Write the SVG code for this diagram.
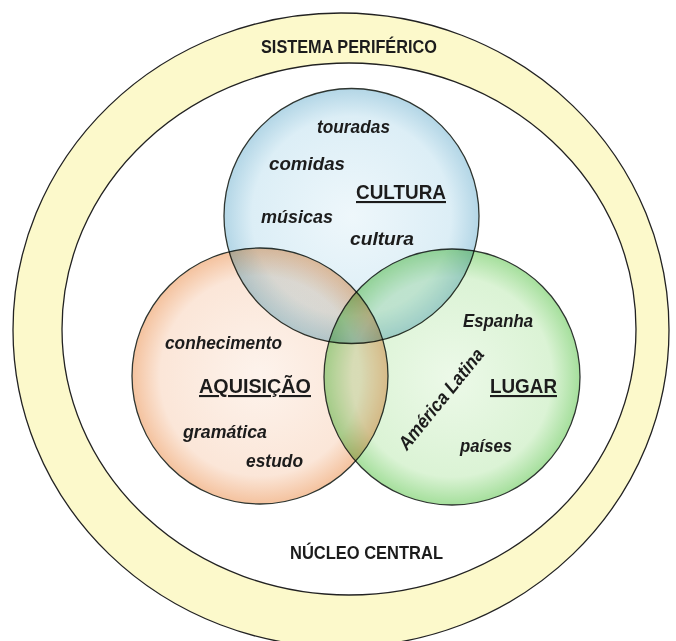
<svg xmlns="http://www.w3.org/2000/svg" width="676" height="641" viewBox="0 0 676 641">
  <defs>
    <radialGradient id="gBlue" cx="50%" cy="50%" r="50%">
      <stop offset="0%" stop-color="#eef7fb"/>
      <stop offset="78%" stop-color="#dceef6"/>
      <stop offset="100%" stop-color="#b3d6e6"/>
    </radialGradient>
    <radialGradient id="gOrange" cx="50%" cy="50%" r="50%">
      <stop offset="0%" stop-color="#fdf3ec"/>
      <stop offset="78%" stop-color="#fbe6d8"/>
      <stop offset="100%" stop-color="#f4c29e"/>
    </radialGradient>
    <radialGradient id="gGreen" cx="50%" cy="50%" r="50%">
      <stop offset="0%" stop-color="#ecf9e8"/>
      <stop offset="78%" stop-color="#dbf3d5"/>
      <stop offset="100%" stop-color="#a5df9c"/>
    </radialGradient>
  </defs>
  <style>
    .ring { stroke: #222; stroke-width: 1.3; }
    .circ { stroke: #2e3530; stroke-width: 1.3; mix-blend-mode: multiply; }
    .lbl { font-family: "Liberation Sans", Arial, sans-serif; font-weight: bold; fill: #1c1c1c; text-anchor: middle; }
    .word { font-family: "Liberation Sans", Arial, sans-serif; font-weight: bold; font-style: italic; font-size: 19px; fill: #1c1c1c; text-anchor: middle; }
    .head { font-size: 21px; text-decoration: underline; }
    .sys { font-size: 18.5px; }
  </style>

  <rect x="0" y="0" width="676" height="641" fill="#ffffff"/>

  <g id="sistema-periferico">
    <ellipse class="ring" cx="341" cy="330" rx="328" ry="317" fill="#fcf9cb"/>
    <text class="lbl sys" x="349" y="53" textLength="176" lengthAdjust="spacingAndGlyphs">SISTEMA PERIFÉRICO</text>
  </g>

  <g id="nucleo-central">
    <ellipse class="ring" cx="349" cy="329" rx="287" ry="266" fill="#ffffff"/>
    <text class="lbl sys" x="366.5" y="559" textLength="153" lengthAdjust="spacingAndGlyphs">NÚCLEO CENTRAL</text>
  </g>

  <g id="cultura">
    <circle class="circ" cx="351.5" cy="216" r="127.5" fill="url(#gBlue)"/>
    <text class="word" x="353.5" y="133" textLength="73" lengthAdjust="spacingAndGlyphs">touradas</text>
    <text class="word" x="307" y="170" textLength="76" lengthAdjust="spacingAndGlyphs">comidas</text>
    <text class="lbl head" x="401" y="199" textLength="90" lengthAdjust="spacingAndGlyphs">CULTURA</text>
    <text class="word" x="297" y="223" textLength="72" lengthAdjust="spacingAndGlyphs">músicas</text>
    <text class="word" x="382" y="245" textLength="64" lengthAdjust="spacingAndGlyphs">cultura</text>
  </g>

  <g id="aquisicao">
    <circle class="circ" cx="260" cy="376" r="128" fill="url(#gOrange)"/>
    <text class="word" x="223.5" y="349" textLength="117" lengthAdjust="spacingAndGlyphs">conhecimento</text>
    <text class="lbl head" x="255" y="393" textLength="112" lengthAdjust="spacingAndGlyphs">AQUISIÇÃO</text>
    <text class="word" x="225" y="438" textLength="84" lengthAdjust="spacingAndGlyphs">gramática</text>
    <text class="word" x="274.5" y="467" textLength="57" lengthAdjust="spacingAndGlyphs">estudo</text>
  </g>

  <g id="lugar">
    <circle class="circ" cx="452" cy="377" r="128" fill="url(#gGreen)"/>
    <text class="word" x="498" y="327" textLength="70" lengthAdjust="spacingAndGlyphs">Espanha</text>
    <text class="lbl head" x="523.5" y="393" textLength="67" lengthAdjust="spacingAndGlyphs">LUGAR</text>
    <text class="word" transform="translate(446 403) rotate(-51)" x="0" y="0" textLength="124" lengthAdjust="spacingAndGlyphs">América Latina</text>
    <text class="word" x="486" y="452" textLength="52" lengthAdjust="spacingAndGlyphs">países</text>
  </g>
</svg>
